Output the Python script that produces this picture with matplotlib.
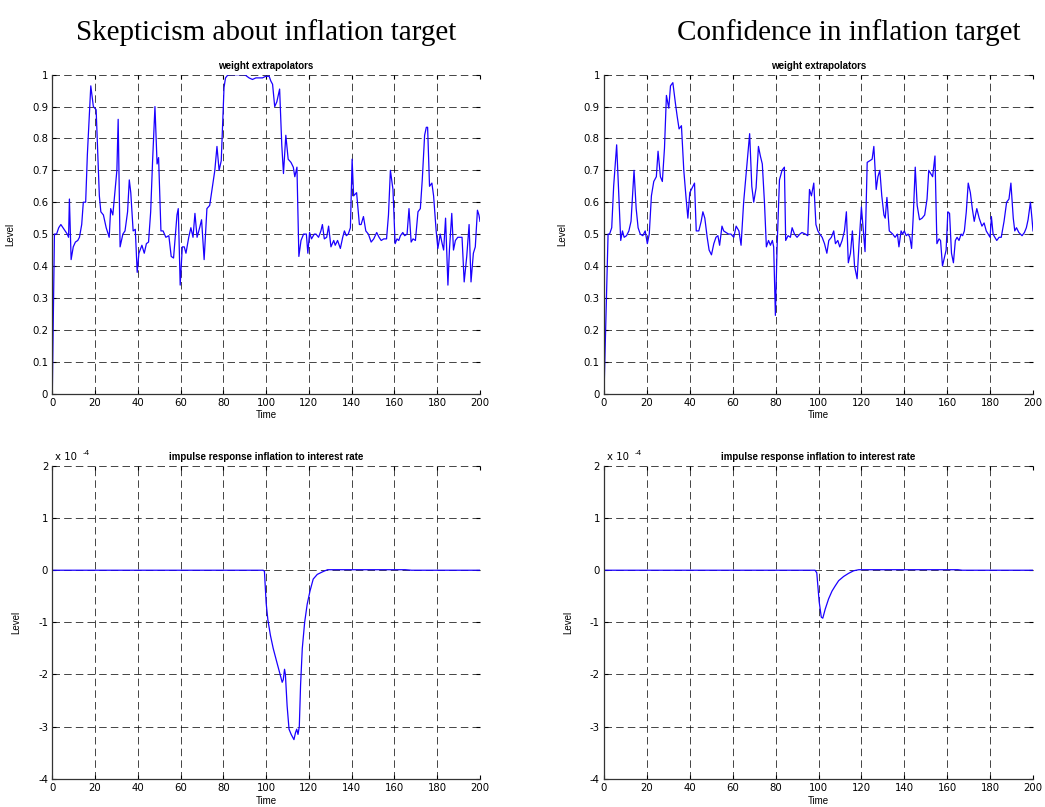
import matplotlib
matplotlib.use("Agg")
import matplotlib.pyplot as plt
import numpy as np

plt.rcParams['font.family'] = ['Liberation Sans', 'DejaVu Sans']

# ---------------- data ----------------
xticks = [0, 20, 40, 60, 80, 100, 120, 140, 160, 180, 200]
yticks_top = [0, 0.1, 0.2, 0.3, 0.4, 0.5, 0.6, 0.7, 0.8, 0.9, 1]
yticks_bot = [-4, -3, -2, -1, 0, 1, 2]

col_titles = ["Skepticism about inflation target", "Confidence in inflation target"]
top_title = "weight extrapolators"
bot_title = "impulse response inflation to interest rate"

skep_w_t = [0, 1, 2, 3, 4, 5, 6, 7, 7.6, 8, 8.8, 9.8, 10.8, 11.9, 12.7, 13.75, 14.5, 15.6, 16.4, 18,
            19.2, 20.5, 21.1, 22, 22.7, 23.9, 25.2, 26.6, 27.3, 28.3, 29.4, 30.2, 30.8, 31.7, 33, 34,
            35.2, 36, 36.7, 37.8, 38.8, 39.7, 40.5, 41.9, 43, 44, 45, 46, 46.9, 48, 49, 49.7, 50.8,
            51.8, 53.1, 54.5, 55.6, 56.7, 58.3, 58.9, 59.8, 60.8, 61.7, 62.5, 63.8, 64.8, 65.8, 66.7,
            67.7, 68.9, 69.8, 71, 72.3, 73.6, 74.7, 76, 77, 78, 79, 80.3, 81, 82.2, 90, 92, 93.6, 95.2,
            96.7, 98.3, 99.8, 101.4, 102.2, 103, 104, 105, 106.3, 107.3, 108.1, 109.2, 110.3, 111.6,
            112.7, 113.4, 114.4, 115.3, 116.3, 117.5, 118.8, 119.5, 120.3, 121.2, 122.5, 123.3, 124.5,
            125.6, 126.3, 127.2, 128.3, 129.2, 130.3, 131.6, 132.3, 133.4, 134.7, 135.8, 136.6, 137.5,
            138.4, 139.4, 140.2, 140.9, 142.3, 143.6, 144.4, 145.5, 146.6, 147.8, 149.1, 150.3, 151.7,
            152.8, 153.8, 155, 156.3, 157.2, 158.1, 159.3, 160.3, 161.2, 162, 162.8, 163.9, 164.8,
            165.9, 166.8, 167.8, 168.7, 169.8, 171, 172.1, 173, 174.1, 174.9, 175.5, 176.4, 177.5,
            178.3, 179.5, 180.3, 181.4, 182.3, 183, 183.9, 185, 185.7, 186.8, 187.6, 188.5, 189.6,
            190.7, 191.6, 192.6, 193.8, 194.9, 195.8, 196.9, 197.8, 198.8, 199.5, 200]
skep_w_v = [0, 0.50, 0.50, 0.52, 0.53, 0.52, 0.51, 0.50, 0.49, 0.61, 0.42, 0.46, 0.475, 0.48, 0.49, 0.53,
            0.60, 0.60, 0.75, 0.965, 0.90, 0.89, 0.78, 0.62, 0.57, 0.56, 0.52, 0.49, 0.58, 0.56, 0.64,
            0.70, 0.86, 0.46, 0.50, 0.51, 0.57, 0.67, 0.63, 0.51, 0.515, 0.38, 0.44, 0.465, 0.44, 0.47,
            0.475, 0.57, 0.73, 0.90, 0.72, 0.74, 0.51, 0.51, 0.49, 0.495, 0.43, 0.425, 0.56, 0.58, 0.34,
            0.46, 0.46, 0.44, 0.49, 0.52, 0.49, 0.565, 0.49, 0.52, 0.545, 0.42, 0.58, 0.59, 0.64, 0.70,
            0.775, 0.70, 0.73, 0.96, 0.99, 1.0, 1.0, 0.99, 0.985, 0.99, 0.99, 0.99, 0.995, 0.995, 0.98,
            0.97, 0.90, 0.915, 0.955, 0.78, 0.69, 0.81, 0.735, 0.725, 0.71, 0.68, 0.71, 0.43, 0.48,
            0.50, 0.50, 0.44, 0.505, 0.485, 0.50, 0.50, 0.49, 0.51, 0.53, 0.485, 0.49, 0.525, 0.46,
            0.48, 0.465, 0.48, 0.455, 0.49, 0.51, 0.495, 0.50, 0.52, 0.735, 0.62, 0.63, 0.53, 0.53,
            0.555, 0.51, 0.50, 0.475, 0.485, 0.505, 0.49, 0.48, 0.485, 0.485, 0.56, 0.70, 0.64, 0.47,
            0.485, 0.48, 0.495, 0.505, 0.495, 0.50, 0.58, 0.475, 0.485, 0.48, 0.57, 0.58, 0.67, 0.81,
            0.835, 0.835, 0.65, 0.66, 0.62, 0.51, 0.455, 0.50, 0.47, 0.45, 0.55, 0.34, 0.45, 0.565,
            0.45, 0.48, 0.49, 0.49, 0.49, 0.35, 0.43, 0.53, 0.35, 0.44, 0.46, 0.575, 0.56, 0.54]

conf_w_t = [0, 1.9, 2.6, 3.6, 4.5, 5.9, 6.9, 7.8, 8.6, 9.4, 10.5, 11.6, 12.6, 14, 15, 15.9, 16.9, 18.1,
            19.2, 20.2, 21.1, 22.1, 23.2, 24.4, 25.2, 26.3, 27.2, 28.2, 29.1, 30.2, 31, 32.1, 33.3,
            34.1, 35, 36.1, 37.2, 38.3, 39.1, 40, 41.1, 42.2, 43, 44.2, 45.3, 46.1, 47, 48.1, 49, 50.1,
            51.2, 52.2, 53.1, 53.9, 55, 55.8, 56.9, 58.1, 59.2, 60.5, 61.6, 62.9, 63.9, 65.1, 66.4,
            67.9, 68.9, 69.8, 70.9, 72, 72.9, 73.8, 74.8, 75.7, 76.7, 77.6, 78.5, 79.1, 79.9, 80.7,
            81.8, 83, 84.1, 84.7, 85.8, 86.9, 87.7, 88.8, 90, 91.3, 92.3, 93.9, 95, 95.8, 96.7, 97.8,
            98.8, 99.7, 100.6, 101.7, 102.8, 103.9, 104.8, 106, 107.1, 107.9, 109, 109.9, 111, 112.1,
            113, 113.9, 114.9, 115.8, 116.8, 118, 118.9, 120, 121.7, 122.7, 123.9, 125, 125.8, 126.9,
            127.7, 128.6, 129.5, 130.5, 131.1, 131.9, 133, 134.6, 135.7, 136.8, 137.5, 138.5, 139.2,
            140, 140.9, 141.8, 142.6, 143.4, 144.2, 145.1, 146, 147.1, 148.3, 149.5, 150.6, 151.4,
            152.3, 153.2, 154.3, 155.2, 156.2, 156.9, 157.8, 158.8, 159.5, 160.3, 161.1, 162, 162.9,
            163.8, 164.6, 165.5, 166.5, 167.2, 168, 168.9, 169.8, 170.8, 171.7, 172.6, 173.8, 174.9,
            176.2, 177.2, 178.2, 179.1, 180, 180.6, 181.4, 182.2, 183.1, 184.2, 185.2, 186.5, 187.7,
            188.8, 189.7, 190.8, 191.5, 192.3, 193.4, 194.9, 196, 196.9, 197.7, 198.8, 199.5, 200]
conf_w_v = [0, 0.50, 0.50, 0.52, 0.65, 0.78, 0.62, 0.48, 0.51, 0.49, 0.495, 0.51, 0.54, 0.70, 0.58,
            0.52, 0.50, 0.495, 0.51, 0.47, 0.50, 0.62, 0.665, 0.68, 0.76, 0.68, 0.665, 0.77, 0.935,
            0.895, 0.965, 0.975, 0.91, 0.87, 0.83, 0.84, 0.70, 0.61, 0.55, 0.63, 0.645, 0.66, 0.51,
            0.51, 0.54, 0.57, 0.55, 0.49, 0.45, 0.435, 0.47, 0.49, 0.495, 0.465, 0.525, 0.51, 0.505,
            0.50, 0.50, 0.49, 0.525, 0.51, 0.465, 0.60, 0.70, 0.815, 0.65, 0.60, 0.645, 0.775, 0.745,
            0.72, 0.60, 0.46, 0.48, 0.465, 0.48, 0.46, 0.245, 0.46, 0.67, 0.70, 0.71, 0.48, 0.495,
            0.49, 0.52, 0.50, 0.49, 0.50, 0.505, 0.50, 0.495, 0.64, 0.62, 0.66, 0.53, 0.51, 0.50,
            0.49, 0.47, 0.44, 0.48, 0.49, 0.51, 0.47, 0.48, 0.46, 0.48, 0.51, 0.57, 0.41, 0.44, 0.51,
            0.40, 0.36, 0.47, 0.585, 0.445, 0.725, 0.73, 0.735, 0.775, 0.64, 0.68, 0.70, 0.62, 0.56,
            0.55, 0.615, 0.51, 0.50, 0.49, 0.50, 0.46, 0.51, 0.50, 0.51, 0.495, 0.50, 0.49, 0.455,
            0.56, 0.71, 0.59, 0.545, 0.55, 0.56, 0.61, 0.70, 0.69, 0.68, 0.745, 0.47, 0.485, 0.48,
            0.40, 0.43, 0.45, 0.57, 0.565, 0.44, 0.41, 0.48, 0.49, 0.48, 0.50, 0.495, 0.51, 0.57,
            0.66, 0.63, 0.58, 0.54, 0.58, 0.55, 0.525, 0.535, 0.51, 0.50, 0.49, 0.555, 0.50, 0.49,
            0.48, 0.49, 0.49, 0.54, 0.60, 0.61, 0.66, 0.55, 0.51, 0.52, 0.505, 0.495, 0.505, 0.52,
            0.545, 0.60, 0.55, 0.51]

# impulse responses, in units of 1e-4
skep_ir_t = [0, 98.6, 99.2, 100, 100.8, 102, 103.3, 104.9, 106.4, 107.5, 108, 108.6, 109, 109.8,
             110.7, 111.7, 113, 113.7, 114.3, 114.9, 115.5, 116.1, 116.9, 118, 119.2, 120.5, 122,
             123.9, 126.4, 128.7, 165, 168, 200]
skep_ir_v = [0, 0, -0.02, -0.63, -0.95, -1.25, -1.5, -1.75, -1.98, -2.15, -2.1, -1.9, -2.0, -2.6,
             -3.05, -3.15, -3.25, -3.12, -3.05, -3.15, -3.0, -2.2, -1.5, -1.0, -0.65, -0.4, -0.17,
             -0.08, -0.03, 0.01, 0.01, 0.0, 0.0]
conf_ir_t = [0, 98.4, 99.2, 100.3, 101.3, 102, 103.1, 104.7, 106.3, 107.8, 109.4, 111.7, 114, 116.4,
             118.8, 165, 167, 200]
conf_ir_v = [0, 0, -0.05, -0.6, -0.9, -0.92, -0.75, -0.55, -0.4, -0.3, -0.2, -0.12, -0.06, -0.01,
             0.01, 0.01, 0.0, 0.0]

# ---------------- figure ----------------
W, H = 1045, 807
fig = plt.figure(figsize=(W / 100, H / 100), dpi=100)

def px_axes(l, r, t, b):
    return fig.add_axes([l / W, 1 - b / H, (r - l) / W, (b - t) / H])

LINE = '#1a00ff'
FS = 7
TICKFONT = dict(family='DejaVu Sans', size=7.3)

def style(ax, yticks, ylim, title):
    ax.set_xlim(0, 200)
    ax.set_ylim(*ylim)
    ax.set_xticks(xticks)
    ax.set_xticklabels([str(v) for v in xticks], fontdict=TICKFONT)
    ax.set_yticks(yticks)
    ax.set_yticklabels([("%g" % v) for v in yticks], fontdict=TICKFONT)
    ax.tick_params(direction='in', length=3, width=0.8, pad=3,
                   top=True, right=True, colors='k')
    for s in ['top', 'right']:
        ax.spines[s].set_visible(False)
    for s in ['left', 'bottom']:
        ax.spines[s].set_linewidth(0.9)
        ax.spines[s].set_color('#333333')
    ax.grid(True, color='k', linestyle=(0, (9, 5)), linewidth=0.6, alpha=0.85)
    ax.set_axisbelow(True)
    ax.set_xlabel('Time', fontsize=FS, labelpad=2)
    ax.set_ylabel('Level', fontsize=FS, labelpad=12)
    ax.set_title(title, fontsize=FS, fontweight='bold', pad=4)

ax1 = px_axes(52.3, 480, 74.7, 393.5)
ax2 = px_axes(604, 1033, 74.7, 393.5)
ax3 = px_axes(52.3, 480, 466, 778.7)
ax4 = px_axes(604, 1033, 466, 778.7)

ax1.plot(skep_w_t, skep_w_v, color=LINE, lw=0.9)
ax2.plot(conf_w_t, conf_w_v, color=LINE, lw=0.9)
ax3.plot(skep_ir_t, skep_ir_v, color=LINE, lw=0.9)
ax4.plot(conf_ir_t, conf_ir_v, color=LINE, lw=0.9)

for ax in (ax1, ax2):
    style(ax, yticks_top, (0, 1), top_title)
for ax in (ax3, ax4):
    style(ax, yticks_bot, (-4, 2), bot_title)
    ax.text(0.006, 1.012, 'x 10', transform=ax.transAxes, family='DejaVu Sans',
            fontsize=7.3, ha='left', va='bottom')
    ax.text(0.071, 1.033, '-4', transform=ax.transAxes, family='DejaVu Sans',
            fontsize=5.2, ha='left', va='bottom')

fig.text(266 / W, 1 - 33 / H, col_titles[0], ha='center', va='center',
         family='Liberation Serif', fontsize=21)
fig.text(849 / W, 1 - 33 / H, col_titles[1], ha='center', va='center',
         family='Liberation Serif', fontsize=21)

fig.savefig('out.png', dpi=100)
